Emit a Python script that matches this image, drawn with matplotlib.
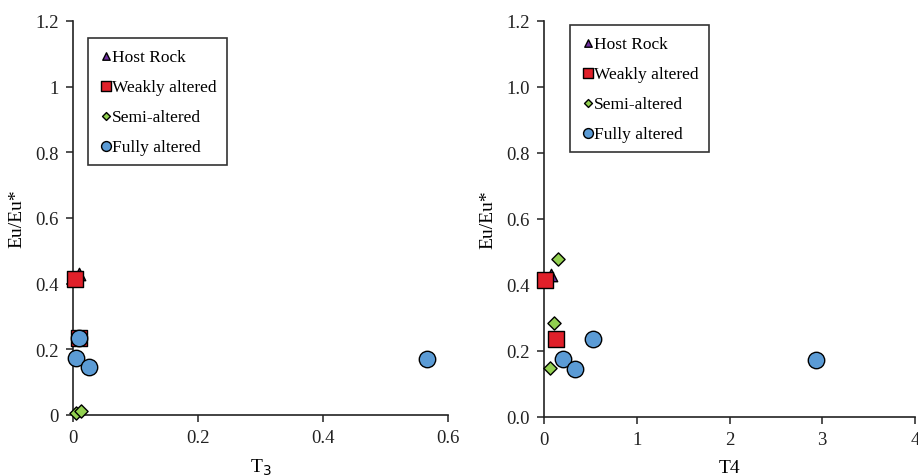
import matplotlib
matplotlib.use("Agg")
import matplotlib.pyplot as plt
from matplotlib.ticker import FixedLocator, FixedFormatter

plt.rcParams['font.family'] = ['Liberation Serif', 'DejaVu Serif']

series = ["Host Rock", "Weakly altered", "Semi-altered", "Fully altered"]

# Left panel (T3)
t3_host_x = [0.010]; t3_host_y = [0.43]
t3_weak_x = [0.003, 0.010]; t3_weak_y = [0.415, 0.235]
t3_semi_x = [0.005, 0.012]; t3_semi_y = [0.005, 0.012]
t3_full_x = [0.010, 0.004, 0.026, 0.567]; t3_full_y = [0.235, 0.175, 0.145, 0.172]

# Right panel (T4)
t4_host_x = [0.08]; t4_host_y = [0.43]
t4_weak_x = [0.01, 0.13]; t4_weak_y = [0.415, 0.235]
t4_semi_x = [0.15, 0.11, 0.07]; t4_semi_y = [0.48, 0.285, 0.15]
t4_full_x = [0.21, 0.33, 0.53, 2.93]; t4_full_y = [0.175, 0.145, 0.235, 0.172]

left_yticks = [0, 0.2, 0.4, 0.6, 0.8, 1, 1.2]
left_ylabels = ["0", "0.2", "0.4", "0.6", "0.8", "1", "1.2"]
left_xticks = [0, 0.2, 0.4, 0.6]
left_xlabels = ["0", "0.2", "0.4", "0.6"]
right_ylabels = ["0.0", "0.2", "0.4", "0.6", "0.8", "1.0", "1.2"]
right_xticks = [0, 1, 2, 3, 4]
right_xlabels = ["0", "1", "2", "3", "4"]

styles = {
    "Host Rock": dict(marker="^", color="#7030A0", s=80),
    "Weakly altered": dict(marker="s", color="#E0202A", s=120),
    "Semi-altered": dict(marker="D", color="#92D050", s=45),
    "Fully altered": dict(marker="o", color="#5B9BD5", s=140),
}

fig = plt.figure(figsize=(9.18, 4.77), dpi=100)
ax1 = fig.add_axes([73/918, 1-416/477, (448-73)/918, (416-22)/477])
ax2 = fig.add_axes([544/918, 1-418/477, (915-544)/918, (418-22)/477])

def draw(ax, data):
    handles = []
    for name, (xs, ys) in zip(series, data):
        st = styles[name]
        h = ax.scatter(xs, ys, marker=st["marker"], s=st["s"], c=st["color"],
                       edgecolors="black", linewidths=1.0, zorder=3, clip_on=False,
                       label=name)
        handles.append(h)
    for sp in ["top", "right"]:
        ax.spines[sp].set_visible(False)
    for sp in ["left", "bottom"]:
        ax.spines[sp].set_linewidth(1.2)
        ax.spines[sp].set_color("#222222")
    ax.tick_params(direction="out", length=5, width=1.1, labelsize=13.5, colors="#222222",
                   pad=5)
    ax.set_ylim(0, 1.2)
    ax.set_ylabel("Eu/Eu*", fontsize=14, labelpad=7)
    return handles

draw(ax1, [(t3_host_x, t3_host_y), (t3_weak_x, t3_weak_y),
           (t3_semi_x, t3_semi_y), (t3_full_x, t3_full_y)])
ax1.set_xlim(0, 0.6)
ax1.xaxis.set_major_locator(FixedLocator(left_xticks))
ax1.xaxis.set_major_formatter(FixedFormatter(left_xlabels))
ax1.yaxis.set_major_locator(FixedLocator(left_yticks))
ax1.yaxis.set_major_formatter(FixedFormatter(left_ylabels))
ax1.set_xlabel("T$_3$", fontsize=14, labelpad=8)

draw(ax2, [(t4_host_x, t4_host_y), (t4_weak_x, t4_weak_y),
           (t4_semi_x, t4_semi_y), (t4_full_x, t4_full_y)])
ax2.set_xlim(0, 4)
ax2.xaxis.set_major_locator(FixedLocator(right_xticks))
ax2.xaxis.set_major_formatter(FixedFormatter(right_xlabels))
ax2.yaxis.set_major_locator(FixedLocator(left_yticks))
ax2.yaxis.set_major_formatter(FixedFormatter(right_ylabels))
ax2.set_xlabel("T4", fontsize=14, labelpad=8)

for ax, anchor in [(ax1, (88/918, 1-39/477)), (ax2, (570/918, 1-26/477))]:
    leg = ax.legend(loc="upper left", bbox_to_anchor=anchor, bbox_transform=fig.transFigure,
                    fontsize=12.5, frameon=True, fancybox=False, edgecolor="black",
                    markerscale=0.6, handletextpad=-0.1, labelspacing=0.8,
                    borderpad=0.6, handlelength=0.9, borderaxespad=0)
    leg.get_frame().set_linewidth(1.2)

fig.savefig("out.png", dpi=100)
